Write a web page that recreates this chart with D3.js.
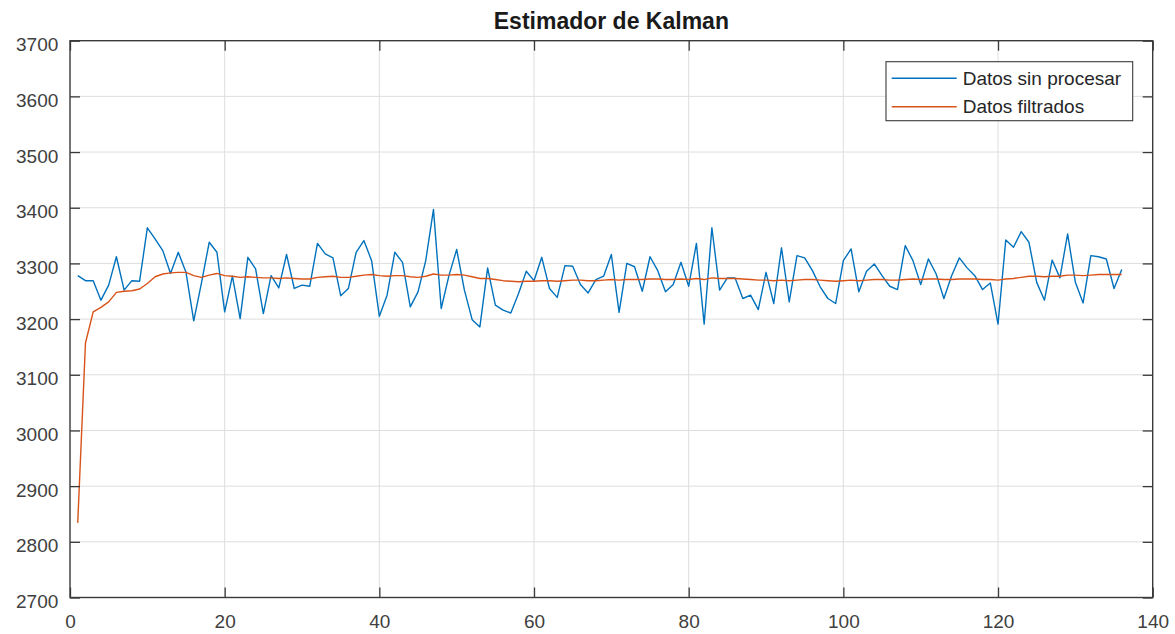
<!DOCTYPE html>
<html>
<head>
<meta charset="utf-8">
<script src="https://cdn.jsdelivr.net/npm/d3@7"></script>
<style>
    body { margin: 0; background: #fff; }
    svg { font-family: "Liberation Sans", Arial, sans-serif; }
</style>
</head>
<body>
<div id="chart"></div>
<script>
const xTicks = [0, 20, 40, 60, 80, 100, 120, 140];
const yTicks = [2700, 2800, 2900, 3000, 3100, 3200, 3300, 3400, 3500, 3600, 3700];
const seriesNames = ['Datos sin procesar', 'Datos filtrados'];

// raw readings, sample 1..136
const rawData = [
    3278, 3269, 3269, 3234, 3261, 3312, 3252, 3269, 3268, 3364,
    3344, 3323, 3282, 3320, 3284, 3197, 3265, 3338, 3320, 3213,
    3277, 3201, 3311, 3290, 3210, 3278, 3256, 3316, 3255, 3261,
    3259, 3336, 3317, 3310, 3242, 3255, 3320, 3341, 3305, 3205,
    3243, 3320, 3302, 3222, 3249, 3305, 3397, 3219, 3278, 3325,
    3252, 3199, 3186, 3292, 3225, 3216, 3211, 3246, 3286, 3269,
    3311, 3255, 3239, 3296, 3295, 3262, 3247, 3271, 3277, 3316,
    3212, 3300, 3294, 3250, 3312, 3287, 3249, 3262, 3302, 3259,
    3336, 3191, 3364, 3252, 3274, 3274, 3237, 3243, 3217, 3284,
    3228, 3328, 3231, 3314, 3310, 3287, 3258, 3237, 3228, 3305,
    3326, 3249, 3286, 3299, 3278, 3259, 3253, 3332, 3305, 3262,
    3308, 3281, 3237, 3278, 3310, 3292, 3278, 3253, 3265, 3191,
    3342, 3329, 3357, 3338, 3266, 3234, 3306, 3274, 3353, 3266,
    3229, 3314, 3312, 3308, 3255, 3289
];

// kalman output, sample 1..136
const filteredData = [
    2834, 3157, 3213, 3221, 3231, 3248, 3250, 3251, 3254, 3264,
    3276, 3281, 3283, 3284, 3284, 3278, 3275, 3279, 3282, 3278,
    3277, 3275, 3276, 3275, 3274, 3274, 3273, 3274, 3273, 3272,
    3272, 3275, 3276, 3277, 3275, 3275, 3277, 3279, 3280, 3278,
    3277, 3278, 3278, 3276, 3275, 3277, 3281, 3279, 3279, 3280,
    3279, 3276, 3273, 3273, 3271, 3269, 3268, 3267, 3268, 3268,
    3269, 3269, 3268, 3269, 3270, 3270, 3269, 3269, 3270, 3271,
    3270, 3271, 3271, 3271, 3272, 3272, 3271, 3271, 3272, 3271,
    3273, 3271, 3274, 3273, 3273, 3273, 3272, 3271, 3270, 3270,
    3269, 3270, 3269, 3270, 3271, 3271, 3270, 3269, 3268, 3269,
    3270, 3269, 3270, 3271, 3271, 3270, 3270, 3271, 3272, 3271,
    3272, 3272, 3271, 3271, 3272, 3272, 3272, 3271, 3271, 3270,
    3272, 3273, 3275, 3277, 3277, 3276, 3277, 3277, 3279, 3279,
    3278, 3279, 3280, 3280, 3280, 3280
];

const colors = ['#0072BD', '#D95319'];

kalmanChart();

function kalmanChart() {
    const W = 1175, H = 634;
    const left = 70, right = 1152.7, top = 40.7, bottom = 597.5;
    const tickLen = 10;

    const svg = d3.select('#chart').append('svg').attr('width', W).attr('height', H);

    const x = d3.scaleLinear().domain([0, 140]).range([left, right]);
    const y = d3.scaleLinear().domain([2700, 3700]).range([bottom, top]);

    // grid
    svg.append('g').selectAll('line').data(xTicks.slice(1, -1)).enter().append('line')
        .attr('x1', d => x(d)).attr('x2', d => x(d)).attr('y1', top).attr('y2', bottom)
        .style('stroke', '#dedede').style('stroke-width', 1);
    svg.append('g').selectAll('line').data(yTicks.slice(1, -1)).enter().append('line')
        .attr('x1', left).attr('x2', right).attr('y1', d => y(d)).attr('y2', d => y(d))
        .style('stroke', '#dedede').style('stroke-width', 1);

    // lines
    const line = d3.line().x((d, i) => x(i + 1)).y(d => y(d));
    [rawData, filteredData].forEach((s, k) => {
        svg.append('path').datum(s).attr('d', line).attr('fill', 'none')
            .style('stroke', colors[k]).style('stroke-width', 1.4).style('stroke-linejoin', 'round');
    });

    // axes (box with inward ticks)
    const axisColor = '#3a3a3a';
    const fmt = d3.format('d');
    const bottomAxis = svg.append('g').attr('transform', `translate(0, ${bottom})`)
        .call(d3.axisBottom(x).tickValues(xTicks).tickFormat(fmt).tickSize(-tickLen).tickPadding(18));
    const leftAxis = svg.append('g').attr('transform', `translate(${left}, 0)`)
        .call(d3.axisLeft(y).tickValues(yTicks).tickFormat(fmt).tickSize(-tickLen).tickPadding(11.7));
    const topAxis = svg.append('g').attr('transform', `translate(0, ${top})`)
        .call(d3.axisTop(x).tickValues(xTicks).tickSize(-tickLen).tickFormat(''));
    const rightAxis = svg.append('g').attr('transform', `translate(${right}, 0)`)
        .call(d3.axisRight(y).tickValues(yTicks).tickSize(-tickLen).tickFormat(''));

    [bottomAxis, leftAxis, topAxis, rightAxis].forEach(g => {
        g.select('.domain').remove();
        g.selectAll('.tick line').style('stroke', axisColor).style('stroke-width', 1.3);
        g.selectAll('text').style('font-size', '19px').style('fill', '#404040')
            .style('font-family', '"Liberation Sans", Arial, sans-serif');
    });
    leftAxis.selectAll('text').attr('dy', '0.35em').attr('y', 3.5);
    bottomAxis.selectAll('text').attr('dy', '0.71em').attr('y', 17);

    svg.append('rect').attr('x', left).attr('y', top).attr('width', right - left).attr('height', bottom - top)
        .attr('fill', 'none').style('stroke', axisColor).style('stroke-width', 1.4);

    // title
    svg.append('text').attr('x', (left + right) / 2).attr('y', 28.5).attr('text-anchor', 'middle')
        .style('font-size', '23px').style('font-weight', 'bold').style('fill', '#1a1a1a').text('Estimador de Kalman');

    // legend
    const lg = svg.append('g');
    lg.append('rect').attr('x', 886).attr('y', 61.7).attr('width', 246.7).attr('height', 59)
        .attr('fill', '#fff').style('stroke', axisColor).style('stroke-width', 1.1);
    seriesNames.forEach((name, k) => {
        const cy = 78.3 + k * 28.4;
        lg.append('line').attr('x1', 891.7).attr('x2', 956.7).attr('y1', cy).attr('y2', cy)
            .style('stroke', colors[k]).style('stroke-width', 1.4);
        lg.append('text').attr('x', 962.7).attr('y', cy).attr('dy', '0.35em')
            .style('font-size', '19px').style('fill', '#262626').text(name);
    });
}
</script>
</body>
</html>
